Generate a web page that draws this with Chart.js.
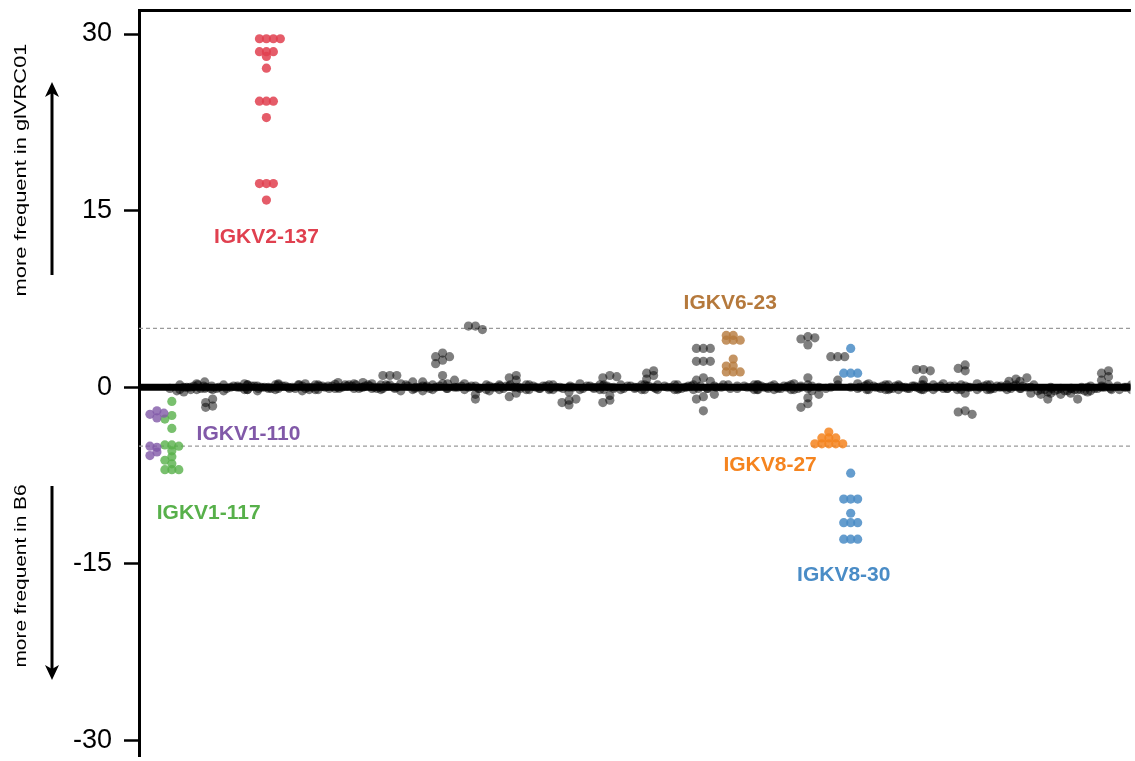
<!DOCTYPE html>
<html>
<head>
<meta charset="utf-8">
<script src="https://cdn.jsdelivr.net/npm/chart.js@4.4.1/dist/chart.umd.min.js"></script>
<style>
    html, body { margin: 0; padding: 0; background: #fff; }
    #wrap { width: 1135px; height: 761px; }
</style>
</head>
<body>
<div id="wrap"><canvas id="grafico" width="1135" height="761"></canvas></div>
<script>
// y axis ticks and the +/-5 cut-off lines
const yTicks = [-30, -15, 0, 15, 30];
const cutoffs = [-5, 5];

// highlighted V genes: name, position along the gene axis, values per animal
const highlightNames = ['IGKV2-137', 'IGKV1-110', 'IGKV1-117', 'IGKV6-23', 'IGKV8-27', 'IGKV8-30'];
const highlightPos = [12.8, 1.8, 3.3, 59.7, 69.3, 71.5];
const highlightValues = [
    [29.6, 29.6, 29.6, 29.6, 28.5, 28.5, 28.5, 28.1, 27.1, 24.3, 24.3, 24.3, 22.9, 17.3, 17.3, 17.3, 15.9],
    [-2.0, -2.3, -2.6, -2.2, -5.1, -5.5, -5.0, -5.8],
    [-1.2, -2.4, -2.7, -3.5, -4.9, -4.9, -5.0, -5.4, -5.9, -6.2, -6.5, -7.0, -7.0, -7.0],
    [4.4, 4.4, 4.0, 4.0, 4.0, 2.4, 1.8, 1.8, 1.3, 1.3, 1.3],
    [-3.8, -4.3, -4.3, -4.3, -4.8, -4.8, -4.8, -4.8, -4.8],
    [3.3, 1.2, 1.2, 1.2, -7.3, -9.5, -9.5, -9.5, -10.7, -11.5, -11.5, -11.5, -12.9, -12.9, -12.9]
];

// all other V genes: [position, values]
const otherGenes = [
    [3.8, [-0.3, -0.1, -0.4, -0.2, 0.0]], [4.8, [0.0, -0.2, 0.1, -0.1, 0.2]], [5.8, [0.3, 0.0, -0.2, 0.1, -0.1]],
    [6.6, [0.45, 0.2, -0.1, 0.1, 0.0]], [7.4, [-1.0, -1.3, -1.6, -1.7, -0.2, 0.0]], [8.5, [0.2, -0.1, -0.3, 0.0, 0.1]],
    [9.5, [0.1, -0.1, 0.0, 0.2, -0.2]], [10.6, [0.3, 0.0, -0.2, 0.1, -0.1]], [11.6, [0.1, -0.2, 0.2, 0.0, -0.1]],
    [12.6, [0.0, -0.3, 0.1, -0.1, 0.2]], [13.7, [0.2, 0.0, -0.2, 0.1, -0.1]], [14.7, [0.1, 0.3, -0.1, 0.0, 0.2]],
    [15.7, [-0.1, 0.0, -0.3, 0.1, -0.2]], [16.7, [0.3, 0.2, 0.0, 0.1, -0.1]], [17.7, [0.2, 0.0, -0.2, 0.1, -0.1]],
    [18.7, [0.0, -0.2, 0.1, -0.1, 0.2]], [19.7, [0.25, 0.1, -0.1, 0.0, 0.2]], [20.7, [0.2, 0.0, 0.4, 0.1, -0.1]],
    [21.6, [0.3, 0.1, -0.1, 0.0, 0.2]], [22.5, [0.4, 0.2, 0.0, 0.1, -0.1]], [23.4, [0.3, -0.1, 0.1, 0.0, 0.2]],
    [24.3, [0.2, 0.0, -0.2, 0.1, -0.1]], [25.2, [1.0, 1.0, 1.0, 0.2, -0.1, 0.0]], [26.3, [0.3, 0.0, -0.3, 0.1, -0.1]],
    [27.5, [0.45, 0.2, -0.2, 0.0, 0.1]], [28.5, [0.45, 0.1, -0.3, 0.0, -0.1]], [29.5, [0.2, 0.0, -0.2, 0.1, -0.1]],
    [30.5, [2.9, 2.6, 2.6, 2.3, 2.0, 1.0, 0.3, 0.0]], [31.7, [0.6, 0.3, 0.0, 0.1, -0.1]], [32.7, [0.3, 0.0, -0.2, 0.1, -0.1]],
    [33.8, [5.2, 5.2, 4.9, -0.6, -1.0, 0.1, 0.0]], [34.9, [0.2, -0.1, 0.0, 0.1, -0.2]], [35.9, [0.0, -0.3, 0.1, -0.1, 0.2]],
    [36.9, [0.1, -0.2, 0.0, 0.2, -0.1]], [37.9, [1.0, 0.8, 0.6, -0.5, -0.8, 0.0, 0.1]], [38.9, [0.2, 0.0, -0.2, 0.1, -0.1]],
    [39.9, [0.0, -0.2, 0.1, -0.1, 0.2]], [40.9, [0.1, -0.1, 0.2, 0.0, -0.2]], [41.9, [0.0, 0.2, -0.1, 0.1, -0.2]],
    [43.2, [-1.1, -1.3, -1.0, -1.5, -0.4, 0.0]], [44.3, [0.3, 0.0, -0.2, 0.1, -0.1]], [45.3, [0.1, -0.1, 0.0, 0.2, -0.2]],
    [46.3, [0.2, 0.0, -0.2, 0.1, -0.1]], [47.3, [1.0, 0.8, 0.9, -0.7, -1.1, -1.3, 0.0, 0.1]], [48.4, [0.2, 0.0, -0.2, 0.1, -0.1]],
    [49.4, [0.1, -0.1, 0.0, 0.2, -0.2]], [50.5, [0.2, 0.0, -0.2, 0.1, -0.1]], [51.7, [1.4, 1.2, 1.0, 0.7, 0.0, 0.1]],
    [52.8, [0.1, -0.2, 0.0, 0.2, -0.1]], [53.8, [0.2, 0.0, -0.1, 0.1, -0.2]], [54.8, [0.0, -0.2, 0.2, 0.1, -0.1]],
    [55.7, [0.2, 0.0, -0.2, 0.1, -0.1]], [56.7, [3.3, 3.3, 3.3, 2.2, 2.2, 2.2, 0.8, 0.6, 0.5, -0.8, -1.0, -2.0]],
    [57.8, [0.1, -0.1, -0.6, 0.0, 0.2]], [58.7, [0.2, 0.0, -0.1, 0.1]], [60.8, [0.1, -0.1, 0.0, 0.2, -0.2]],
    [61.8, [0.2, 0.0, -0.2, 0.1, -0.1]], [62.8, [0.0, -0.2, 0.1, -0.1, 0.2]], [63.8, [0.2, 0.0, -0.1, 0.1, -0.2]],
    [64.8, [0.1, 0.0, -0.2, 0.2, -0.1]], [65.8, [0.3, 0.0, -0.2, 0.1, -0.1]], [67.2, [4.3, 4.1, 4.2, 3.6, 0.8, 0.2, -0.9, -1.4, -1.7, 0.0]],
    [68.3, [-0.6, -0.3, 0.0, -0.1, 0.1]], [70.2, [2.6, 2.6, 2.6, 0.6, 0.2, 0.0]], [72.2, [0.3, 0.0, -0.1, 0.1]],
    [73.1, [0.2, 0.0, -0.2, 0.1, -0.1]], [74.0, [0.0, -0.2, 0.3, 0.1, -0.1]], [75.0, [0.2, 0.0, -0.1, 0.1, -0.2]],
    [76.0, [0.1, -0.2, 0.0, 0.2, -0.1]], [77.0, [0.0, 0.2, -0.2, 0.1, -0.1]], [77.9, [0.1, -0.1, 0.2, 0.0, -0.2]],
    [78.8, [1.5, 1.5, 1.4, 0.6, 0.2, -0.2, 0.0]], [79.8, [0.2, 0.0, -0.2, 0.1, -0.1]], [80.8, [0.3, 0.0, -0.1, 0.1, -0.2]],
    [81.9, [0.1, -0.1, 0.2, 0.0, -0.2]], [83.0, [1.9, 1.6, 1.4, -0.5, -2.0, -2.1, -2.3, 0.1, 0.0]], [84.2, [0.3, 0.0, -0.2, 0.1, -0.1]],
    [85.2, [0.2, 0.0, -0.1, 0.1, -0.2]], [86.2, [0.1, -0.2, 0.0, 0.2, -0.1]], [87.2, [0.2, 0.0, -0.2, 0.1, -0.1]],
    [88.1, [0.7, 0.5, 0.2, 0.0, 0.1]], [89.2, [0.8, 0.5, 0.0, 0.2, -0.1]], [90.3, [-0.3, -0.5, 0.0, -0.2, -0.1]],
    [91.3, [-0.4, -0.6, -1.0, -0.2, -0.3]], [92.3, [-0.2, -0.5, 0.0, -0.3, -0.1]], [93.3, [-0.3, -0.1, -0.6, -0.2, 0.0]],
    [94.3, [-0.2, -0.5, -1.0, -0.3, -0.1]], [95.3, [0.0, -0.2, -0.4, -0.1, 0.1]], [96.3, [-0.1, 0.1, -0.3, 0.0, -0.2]],
    [97.4, [1.4, 1.2, 0.9, 0.6, 0.2, 0.0]], [98.3, [0.1, -0.1, 0.0, 0.2, -0.2]], [99.2, [0.0, -0.2, 0.1, -0.1]]
];

// styling
const highlightColors = ['#e0404f', '#8159a8', '#57b04a', '#b5793c', '#f5841f', '#4a8cc6'];
const highlightDots = ['rgba(224,64,79,0.85)', 'rgba(129,89,168,0.8)', 'rgba(87,176,74,0.8)',
    'rgba(181,121,60,0.8)', 'rgba(245,132,31,0.85)', 'rgba(74,140,198,0.85)'];
// where each gene name is written, in axis units
const labelAnchors = [[12.8, 12.75], [11.0, -3.95], [7.0, -10.7], [59.4, 7.1], [63.4, -6.6], [70.8, -15.95]];

// spread equal values sideways so the dots of one gene sit in little rows
function swarm(center, values) {
    const offsets = [0, -0.7, 0.7, 1.4, -1.4, 2.1, -2.1];
    const placed = [];
    values.forEach(v => {
        const o = offsets.find(off => !placed.some(p => p.o === off && Math.abs(p.y - v) < 0.35));
        placed.push({ o: o === undefined ? 0 : o, y: v });
    });
    return placed.map(p => ({ x: center + p.o, y: p.y }));
}

const datasets = [{
    label: 'otros',
    data: otherGenes.flatMap(g => swarm(g[0], g[1])),
    backgroundColor: 'rgba(0,0,0,0.5)'
}];
highlightNames.forEach((name, i) => {
    datasets.push({
        label: name,
        data: swarm(highlightPos[i], highlightValues[i]),
        backgroundColor: highlightDots[i]
    });
});

const lineasRef = {
    id: 'lineasRef',
    beforeDatasetsDraw(chart) {
        const { ctx, chartArea, scales: { y } } = chart;
        ctx.save();
        ctx.strokeStyle = '#9a9a9a';
        ctx.lineWidth = 1.3;
        ctx.setLineDash([4, 3]);
        cutoffs.forEach(c => {
            const py = y.getPixelForValue(c);
            ctx.beginPath();
            ctx.moveTo(chartArea.left, py);
            ctx.lineTo(chartArea.right, py);
            ctx.stroke();
        });
        ctx.setLineDash([]);
        ctx.strokeStyle = '#000';
        ctx.lineWidth = 7;
        const p0 = y.getPixelForValue(0);
        ctx.beginPath();
        ctx.moveTo(chartArea.left, p0);
        ctx.lineTo(chartArea.right, p0);
        ctx.stroke();
        ctx.restore();
    }
};

const etiquetas = {
    id: 'etiquetas',
    afterDatasetsDraw(chart) {
        const { ctx, scales: { x, y } } = chart;
        ctx.save();
        ctx.font = 'bold 21px "Liberation Sans", Arial, sans-serif';
        ctx.textAlign = 'center';
        ctx.textBaseline = 'middle';
        highlightNames.forEach((name, i) => {
            ctx.fillStyle = highlightColors[i];
            ctx.fillText(name, x.getPixelForValue(labelAnchors[i][0]), y.getPixelForValue(labelAnchors[i][1]));
        });
        ctx.restore();
    }
};

function textoVertical(ctx, text, cx, cy, largo) {
    ctx.save();
    ctx.translate(cx, cy);
    ctx.rotate(-Math.PI / 2);
    ctx.font = '16px "Liberation Sans", Arial, sans-serif';
    const w = ctx.measureText(text).width;
    ctx.scale(largo / w, 1);
    ctx.textAlign = 'center';
    ctx.textBaseline = 'middle';
    ctx.fillStyle = '#000';
    ctx.fillText(text, 0, 0);
    ctx.restore();
}

function flecha(ctx, x, yCola, yPunta) {
    const dir = yPunta < yCola ? -1 : 1;
    ctx.save();
    ctx.strokeStyle = '#000';
    ctx.fillStyle = '#000';
    ctx.lineWidth = 3;
    ctx.beginPath();
    ctx.moveTo(x, yCola);
    ctx.lineTo(x, yPunta - dir * 10);
    ctx.stroke();
    ctx.beginPath();
    ctx.moveTo(x, yPunta);
    ctx.lineTo(x - 7, yPunta - dir * 15);
    ctx.lineTo(x, yPunta - dir * 11);
    ctx.lineTo(x + 7, yPunta - dir * 15);
    ctx.closePath();
    ctx.fill();
    ctx.restore();
}

const ejeTitulo = {
    id: 'ejeTitulo',
    afterDraw(chart) {
        const ctx = chart.ctx;
        textoVertical(ctx, 'more frequent in glVRC01', 22, 170, 253);
        textoVertical(ctx, 'more frequent in B6', 22, 576, 183);
        flecha(ctx, 52, 275, 82);
        flecha(ctx, 52, 486, 680);
    }
};

function sinRelleno(scale) {
    scale.paddingTop = 0;
    scale.paddingBottom = 0;
    scale.paddingLeft = 0;
    scale.paddingRight = 0;
}

const ctx = document.getElementById('grafico').getContext('2d');
new Chart(ctx, {
    type: 'scatter',
    data: { datasets: datasets },
    options: {
        responsive: false,
        animation: false,
        devicePixelRatio: 1,
        layout: { padding: 0 },
        elements: {
            point: { radius: 4.6, hoverRadius: 4.6, borderWidth: 0 }
        },
        plugins: {
            legend: { display: false },
            tooltip: { enabled: false }
        },
        scales: {
            x: {
                type: 'linear',
                position: 'top',
                min: 0,
                max: 99.6,
                ticks: { display: false },
                grid: { display: false },
                border: { display: true, color: '#000', width: 3 },
                afterFit: function (scale) { scale.height = 10; sinRelleno(scale); }
            },
            y: {
                min: -31.35,
                max: 32.04,
                afterBuildTicks: function (scale) {
                    scale.ticks = yTicks.map(v => ({ value: v }));
                },
                afterFit: function (scale) { scale.width = 139; sinRelleno(scale); },
                ticks: {
                    color: '#000',
                    padding: 12,
                    font: { family: '"Liberation Sans", Arial, sans-serif', size: 27 }
                },
                grid: {
                    display: true,
                    drawOnChartArea: false,
                    drawTicks: true,
                    tickLength: 15,
                    tickWidth: 2.5,
                    tickColor: '#000'
                },
                border: { display: true, color: '#000', width: 3 }
            }
        }
    },
    plugins: [lineasRef, etiquetas, ejeTitulo]
});
</script>
</body>
</html>
